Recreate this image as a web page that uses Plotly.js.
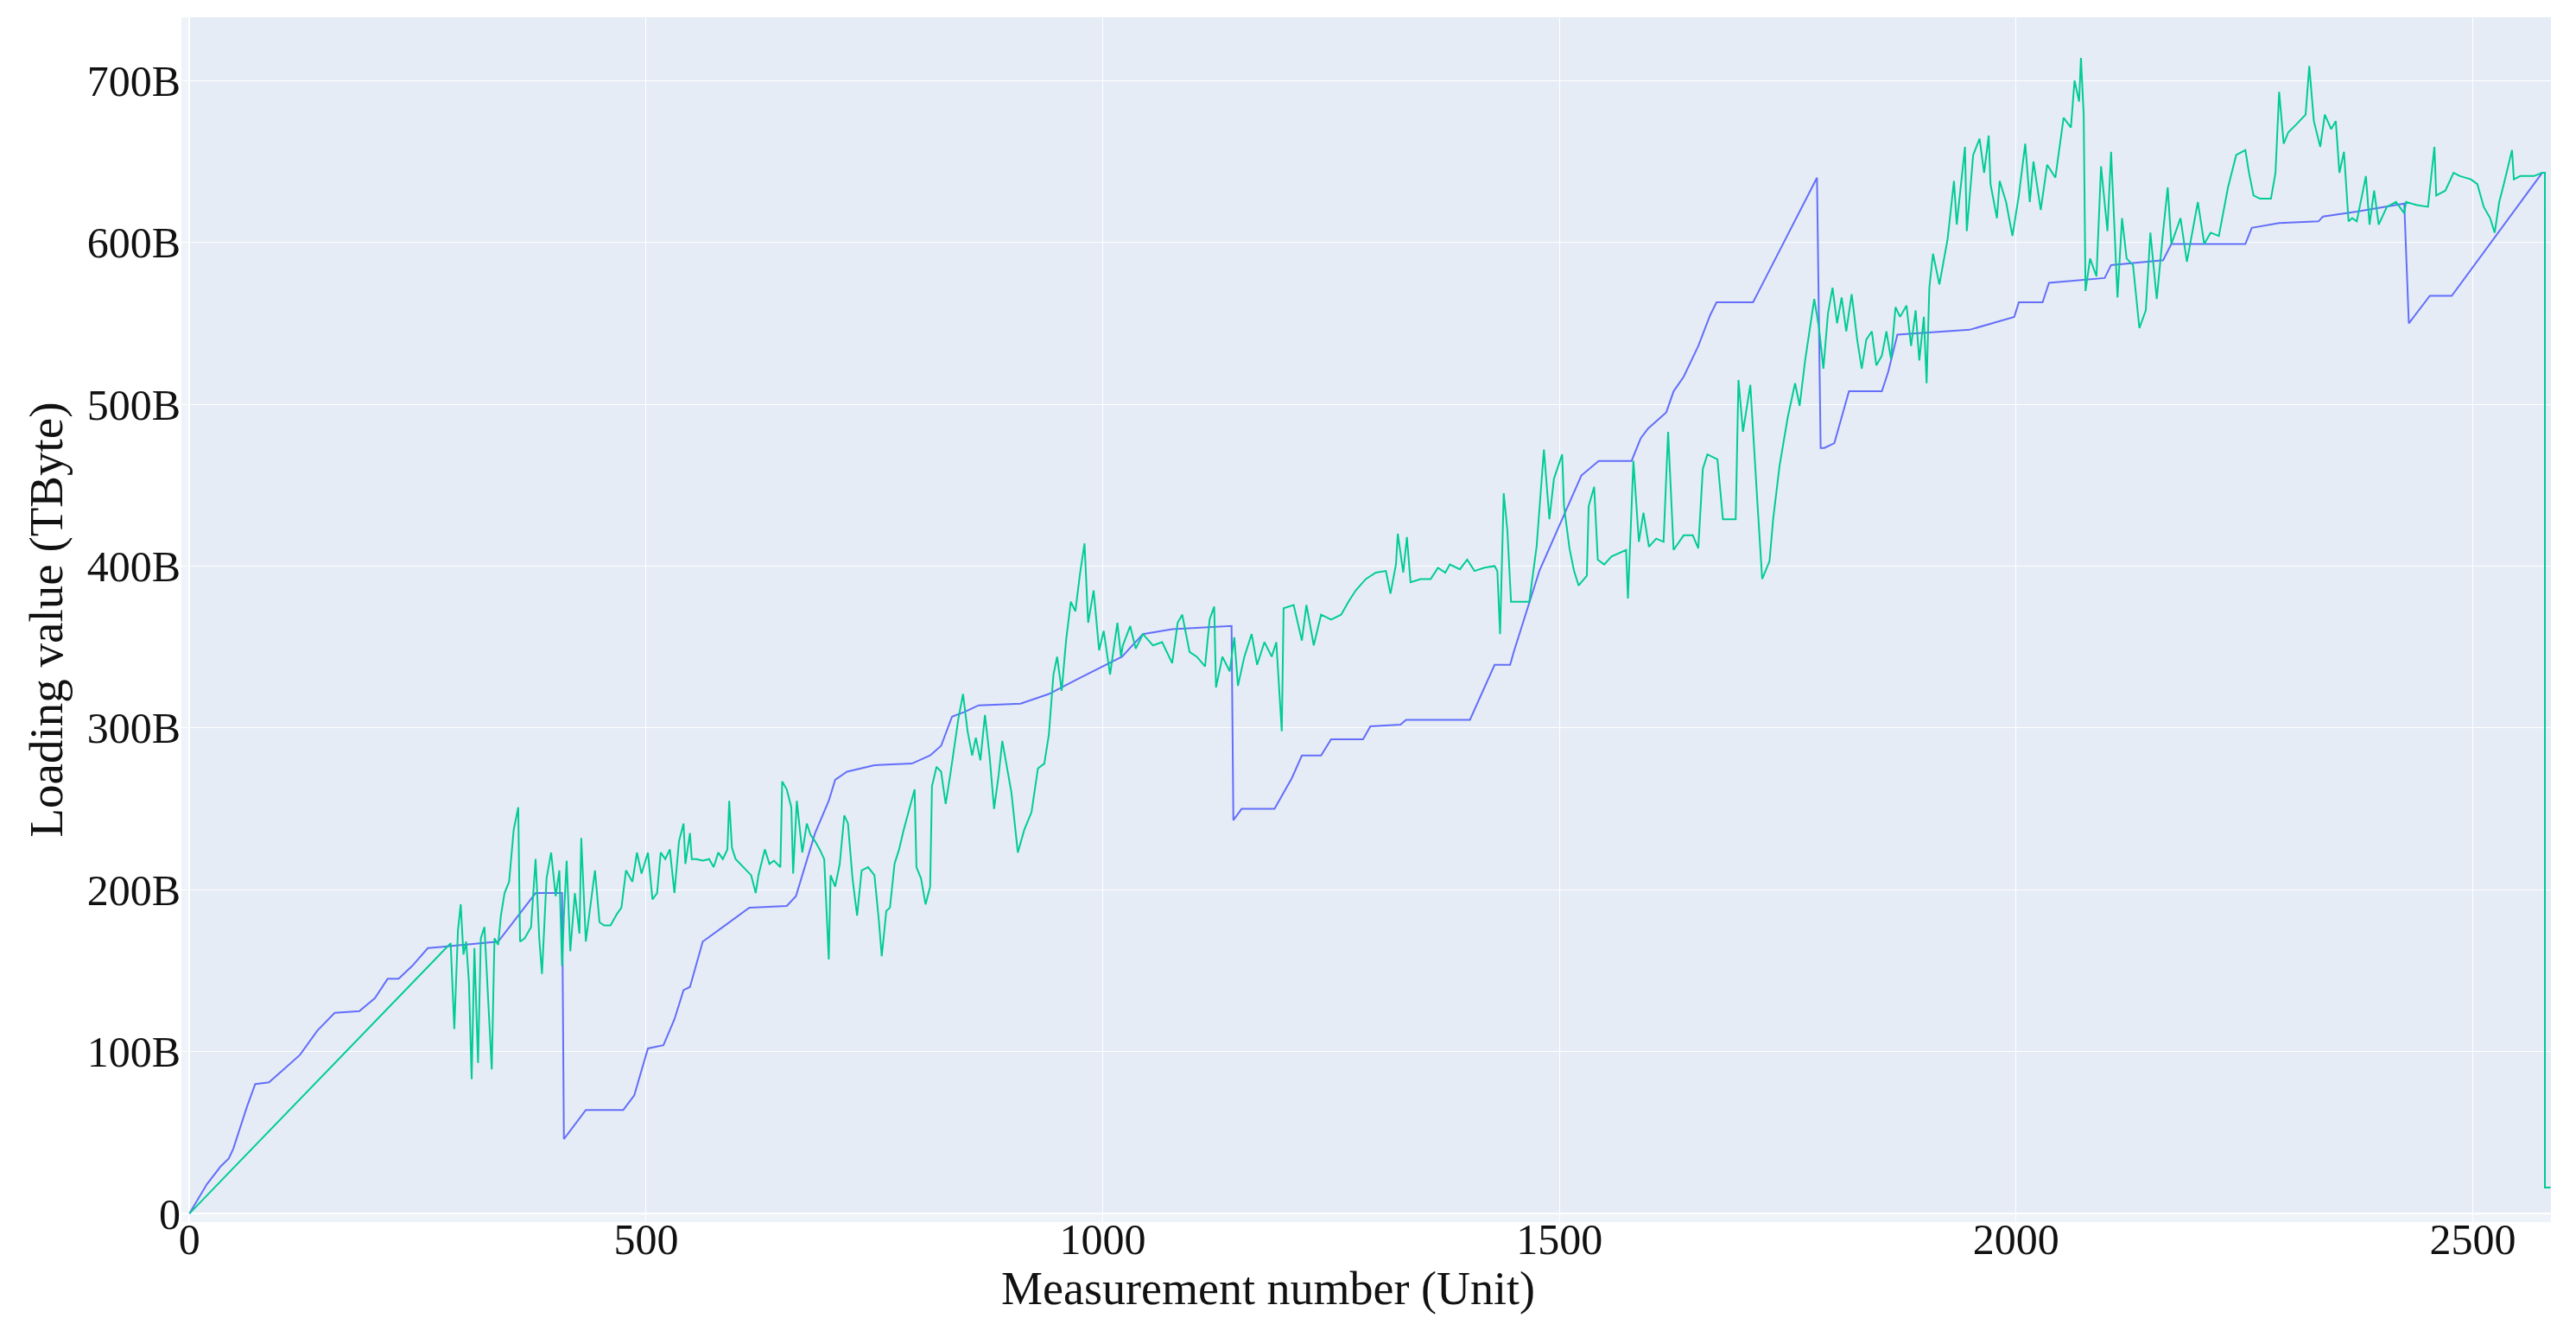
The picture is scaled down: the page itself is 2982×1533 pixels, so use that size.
<!DOCTYPE html>
<html>
<head>
<meta charset="utf-8">
<script src="https://cdn.plot.ly/plotly-3.0.1.min.js"></script>
<style>
  html, body { margin: 0; padding: 0; background: #ffffff; }
  #chart { width: 2982px; height: 1533px; }
</style>
</head>
<body>
<div id="chart"></div>
<script>
// ---- Data (y in billions of bytes) ----
const blueX = [0,19,34,43,48,63,72,87,101,121,140,159,186,203,217,229,244,261,282,338,379,408,410,434,475,487,502,519,531,541,548,562,584,613,654,664,671,685,700,707,720,750,791,811,823,835,849,864,910,941,975,1021,1044,1076,1141,1143,1152,1188,1207,1218,1239,1250,1285,1293,1326,1332,1402,1418,1429,1446,1450,1478,1508,1524,1543,1579,1589,1597,1617,1625,1636,1652,1665,1672,1712,1782,1786,1790,1801,1817,1853,1860,1870,1949,1998,2003,2029,2036,2097,2104,2161,2170,2251,2258,2288,2331,2336,2373,2425,2430,2453,2477,2576,2579,2579,2585];
const blueY = [0,18,29,34,40,66,80,81,88,98,113,124,125,133,145,145,153,164,165,168,198,198,46,64,64,73,102,104,120,138,140,168,177,189,190,196,209,235,255,268,273,277,278,283,289,307,310,314,315,321,331,344,358,361,363,243,250,250,269,283,283,293,293,301,302,305,305,325,339,339,347,397,436,456,465,465,479,485,495,508,517,536,555,563,563,640,473,473,476,508,508,520,543,546,554,563,563,575,578,586,589,599,599,609,612,613,616,619,624,550,567,567,643,643,16,16];

const tealX = [0,286,290,294,297,300,303,306,309,312,316,319,323,327,331,334,338,341,345,350,355,360,362,367,374,379,383,386,391,396,401,405,408,410,413,417,422,427,429,434,439,444,449,454,461,468,473,478,485,490,495,502,507,512,516,521,526,531,536,541,543,548,550,555,562,569,574,579,584,589,591,594,598,603,610,615,620,623,630,635,640,647,649,654,659,661,665,671,676,680,685,690,695,700,702,707,712,717,721,726,731,736,743,750,755,758,763,767,772,777,782,789,794,796,801,806,811,813,818,823,828,833,837,842,847,852,857,861,866,871,876,881,886,890,895,900,907,914,922,929,936,941,946,950,955,960,965,970,975,980,984,990,996,1001,1008,1016,1020,
1022,1030,1036,1044,1055,1065,1076,1082,1087,1095,1103,1112,1117,1122,1124,1131,1139,1144,1148,1155,1163,1169,1177,1185,1190,1196,1198,1209,1218,1223,1231,1239,1250,1261,1269,1277,1288,1299,1310,1315,1321,1323,1329,1333,1337,1348,1359,1367,1375,1380,1391,1399,1407,1418,1429,1432,1435,1439,1443,1447,1456,1467,1475,1483,1489,1494,1503,1505,1511,1516,1521,1530,1532,1538,1542,1549,1557,1565,1573,1575,1579,1581,1587,1592,1598,1606,1614,1619,1625,1636,1646,1652,1657,1662,1673,1679,1693,1696,1701,1709,1717,1722,1730,1734,1741,1750,1758,1763,1769,
1774,1779,1784,1789,1794,1799,1804,1809,1814,1820,1826,1831,1836,1842,1847,1853,1858,1863,1868,
1873,1880,1885,1890,1894,1899,1902,1905,1909,1916,1925,1932,1935,1944,1946,1953,1960,1965,1970,1972,1979,1982,1989,1996,2003,2010,2015,2019,2027,2034,2043,2052,2060,2064,2069,2071,2074,2076,2081,2088,2093,2100,2104,2111,2116,2121,2128,2135,2142,2147,2154,2161,2166,2170,2180,2187,2199,2206,2213,2222,2232,2241,2251,2255,2260,2267,2279,2284,2288,2293,2298,2307,2317,2321,2326,2333,2338,2345,2350,2354,2359,2364,2368,2373,2383,2387,2392,2397,2406,2416,2425,2427,2439,2451,2458,2460,2470,2479,2486,2498,2505,2512,2519,2524,2529,2534,2543,2545,2552,2567,2576,2579,2579,2585];
const tealY = [0,167,114,175,191,160,168,143,83,164,93,170,177,130,89,170,166,184,198,205,237,251,168,170,177,219,170,148,207,223,196,212,153,184,218,162,198,173,232,168,189,212,180,178,178,185,189,212,205,223,210,223,194,198,223,219,225,198,230,241,216,235,219,219,218,219,214,223,219,225,255,226,219,216,212,209,198,209,225,216,218,214,267,262,251,210,255,223,241,234,230,225,219,157,209,202,216,246,241,207,184,212,214,209,180,159,187,189,216,225,237,251,262,214,207,191,202,264,276,273,253,271,287,306,321,298,283,294,280,308,283,250,271,292,276,260,223,237,248,275,278,296,333,344,323,355,378,372,395,414,365,385,348,360,333,365,344,
351,363,349,358,351,353,340,365,370,347,344,338,367,375,325,344,335,356,326,344,358,339,353,344,353,298,374,376,354,376,351,370,367,370,378,385,392,396,397,383,401,420,396,418,390,392,392,399,396,401,398,404,397,399,400,397,358,445,422,378,378,378,412,472,429,454,469,437,411,397,388,394,437,449,404,401,406,408,410,380,437,465,415,433,412,417,415,483,410,419,419,411,460,469,466,429,429,515,483,512,437,392,403,429,462,492,513,499,527,
545,565,548,522,556,572,550,566,545,568,540,522,540,545,524,530,545,528,560,
554,561,536,558,527,554,513,572,593,574,602,638,611,659,607,654,664,643,666,636,615,638,625,604,629,661,625,650,620,648,640,677,671,700,687,714,679,570,590,579,647,607,656,566,615,590,586,547,558,606,565,607,634,599,615,588,625,599,606,604,634,654,657,643,629,627,627,643,693,661,668,673,679,709,675,659,679,670,675,643,656,613,615,613,641,611,632,611,622,625,618,625,623,622,659,629,632,643,641,639,636,622,615,606,625,636,657,639,641,641,643,643,16,16];

const xTickVals = [0, 500, 1000, 1500, 2000, 2500];
const yTickVals = [0, 100, 200, 300, 400, 500, 600, 700];
const yTickLabels = ['0', '100B', '200B', '300B', '400B', '500B', '600B', '700B'];

const traces = [
  { x: blueX, y: blueY, type: 'scatter', mode: 'lines', name: 'Series 1',
    line: { color: '#636efa', width: 2 } },
  { x: tealX, y: tealY, type: 'scatter', mode: 'lines', name: 'Series 2',
    line: { color: '#00cc96', width: 2 } }
];

const fontFam = '"Liberation Serif", "Times New Roman", serif';

const layout = {
  width: 2982, height: 1533,
  margin: { l: 210, r: 29, t: 20, b: 118, pad: 0 },
  paper_bgcolor: '#ffffff',
  plot_bgcolor: '#E5ECF6',
  showlegend: false,
  font: { family: fontFam, size: 50, color: '#111111' },
  xaxis: {
    range: [-8.8, 2585.6],
    tickvals: xTickVals,
    ticks: '',
    ticklabelstandoff: -14,
    showgrid: true, gridcolor: '#ffffff', gridwidth: 1,
    zeroline: true, zerolinecolor: '#ffffff', zerolinewidth: 2,
    showline: false,
    tickfont: { family: fontFam, size: 50, color: '#111111' },
    automargin: false,
    title: { text: 'Measurement number (Unit)', font: { family: fontFam, size: 54, color: '#111111' }, standoff: 0 }
  },
  yaxis: {
    range: [-5.3, 739.1],
    tickvals: yTickVals,
    ticktext: yTickLabels,
    ticks: '',
    showgrid: true, gridcolor: '#ffffff', gridwidth: 1,
    zeroline: true, zerolinecolor: '#ffffff', zerolinewidth: 2,
    showline: false,
    tickfont: { family: fontFam, size: 50, color: '#111111' },
    automargin: false,
    title: { text: 'Loading value (TByte)', font: { family: fontFam, size: 55, color: '#111111' }, standoff: 10 }
  },
  shapes: [
    { type: 'rect', layer: 'below', xref: 'x', yref: 'paper', x0: -8.8, x1: 0, y0: 0, y1: 1,
      fillcolor: 'rgba(255,255,255,0.35)', line: { width: 0 } },
    { type: 'rect', layer: 'below', xref: 'paper', yref: 'y', x0: 0, x1: 1, y0: -5.3, y1: 0,
      fillcolor: 'rgba(255,255,255,0.35)', line: { width: 0 } }
  ]
};

Plotly.newPlot('chart', traces, layout, { displayModeBar: false, staticPlot: true }).then(function (gd) {
  // The reference places the x-axis title slightly left of the plot centre and close under the ticks.
  const t = gd.querySelector('.g-xtitle text');
  if (t) {
    const bb = t.getBBox();
    const targetCx = 1468, targetCy = 1481;
    const dx = targetCx - (bb.x + bb.width / 2);
    const dy = targetCy - (bb.y + bb.height / 2);
    const prev = t.getAttribute('transform') || '';
    t.setAttribute('transform', 'translate(' + dx.toFixed(1) + ',' + dy.toFixed(1) + ') ' + prev);
  }
});
</script>
</body>
</html>
